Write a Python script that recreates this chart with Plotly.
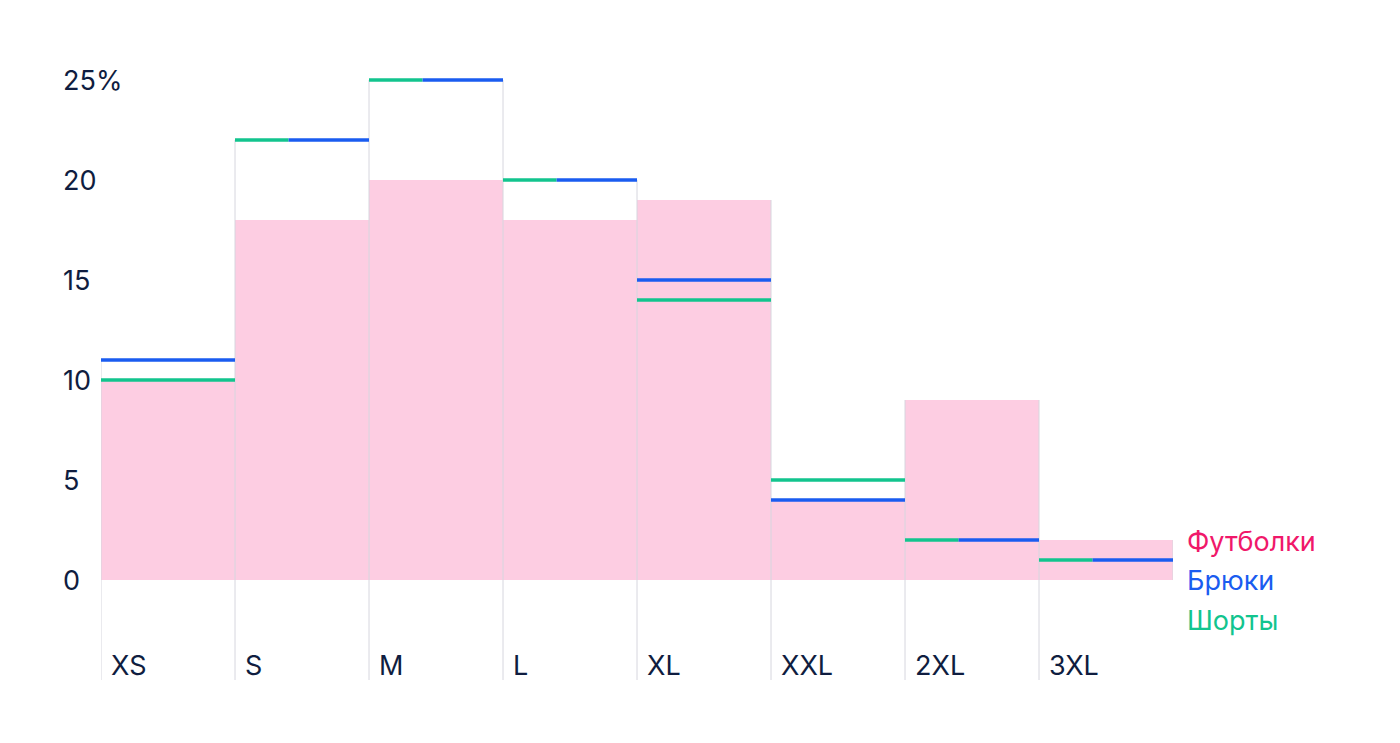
import plotly.graph_objects as go

sizes = ["XS", "S", "M", "L", "XL", "XXL", "2XL", "3XL"]
tshirts = [10, 18, 20, 18, 19, 4, 9, 2]
trousers = [11, 22, 25, 20, 15, 4, 2, 1]
shorts = [10, 22, 25, 20, 14, 5, 2, 1]
y_ticks = [0, 5, 10, 15, 20, 25]

PINK = "#fdcde2"
BLUE = "#1a5cf0"
GREEN = "#12c48e"
INK = "#0f1d40"
GRID = "#d6d6de"

fig = go.Figure()
xs = list(range(len(sizes)))
fig.add_trace(go.Bar(x=xs, y=tshirts, width=1, marker=dict(color=PINK, line_width=0), hoverinfo="skip"))

# vertical separators between columns
tops = [max(t, b, s) for t, b, s in zip(tshirts, trousers, shorts)]
vx, vy = [], []
for i in range(len(sizes) + 1):
    left = tops[i - 1] if i > 0 else 0
    right = tops[i] if i < len(sizes) else 0
    bottom = -5 if i < len(sizes) else 0
    vx += [i - 0.5, i - 0.5, None]
    vy += [bottom, max(left, right), None]
fig.add_trace(go.Scatter(x=vx, y=vy, mode="lines", line=dict(color=GRID, width=1), hoverinfo="skip"))

# horizontal level lines
bx, by, gx, gy = [], [], [], []
for i, (b, s) in enumerate(zip(trousers, shorts)):
    if b == s:
        gx += [i - 0.5, i - 0.1, None]; gy += [s, s, None]
        bx += [i - 0.1, i + 0.5, None]; by += [b, b, None]
    else:
        gx += [i - 0.5, i + 0.5, None]; gy += [s, s, None]
        bx += [i - 0.5, i + 0.5, None]; by += [b, b, None]
fig.add_trace(go.Scatter(x=gx, y=gy, mode="lines", line=dict(color=GREEN, width=3.5), hoverinfo="skip"))
fig.add_trace(go.Scatter(x=bx, y=by, mode="lines", line=dict(color=BLUE, width=3.5), hoverinfo="skip"))

font = dict(family="Inter, Roboto, sans-serif", size=27, color=INK)
ann = []
for v in y_ticks:
    ann.append(dict(xref="paper", yref="y", x=-40 / 1072, y=v, xanchor="left", yanchor="middle",
                    text=f"{v}%" if v == 25 else str(v), showarrow=False, font=font))
for i, s in enumerate(sizes):
    ann.append(dict(x=i - 0.5, y=-5, xanchor="left", yanchor="bottom", xshift=8, yshift=-4,
                    text=s, showarrow=False, font=font))
for name, col, yy in [("Футболки", "#f0186a", 1.95), ("Брюки", BLUE, 0), ("Шорты", GREEN, -2)]:
    ann.append(dict(x=7.5, y=yy, xanchor="left", yanchor="middle", xshift=12,
                    text=name, showarrow=False, font=dict(font, color=col)))

fig.update_layout(
    width=1392, height=735, showlegend=False, bargap=0,
    paper_bgcolor="white", plot_bgcolor="white",
    margin=dict(l=93, r=227, t=32, b=63),
    xaxis=dict(range=[-0.5, 7.5], visible=False),
    yaxis=dict(range=[-5, 27], visible=False),
    annotations=ann,
)
fig.write_html("out.html")
